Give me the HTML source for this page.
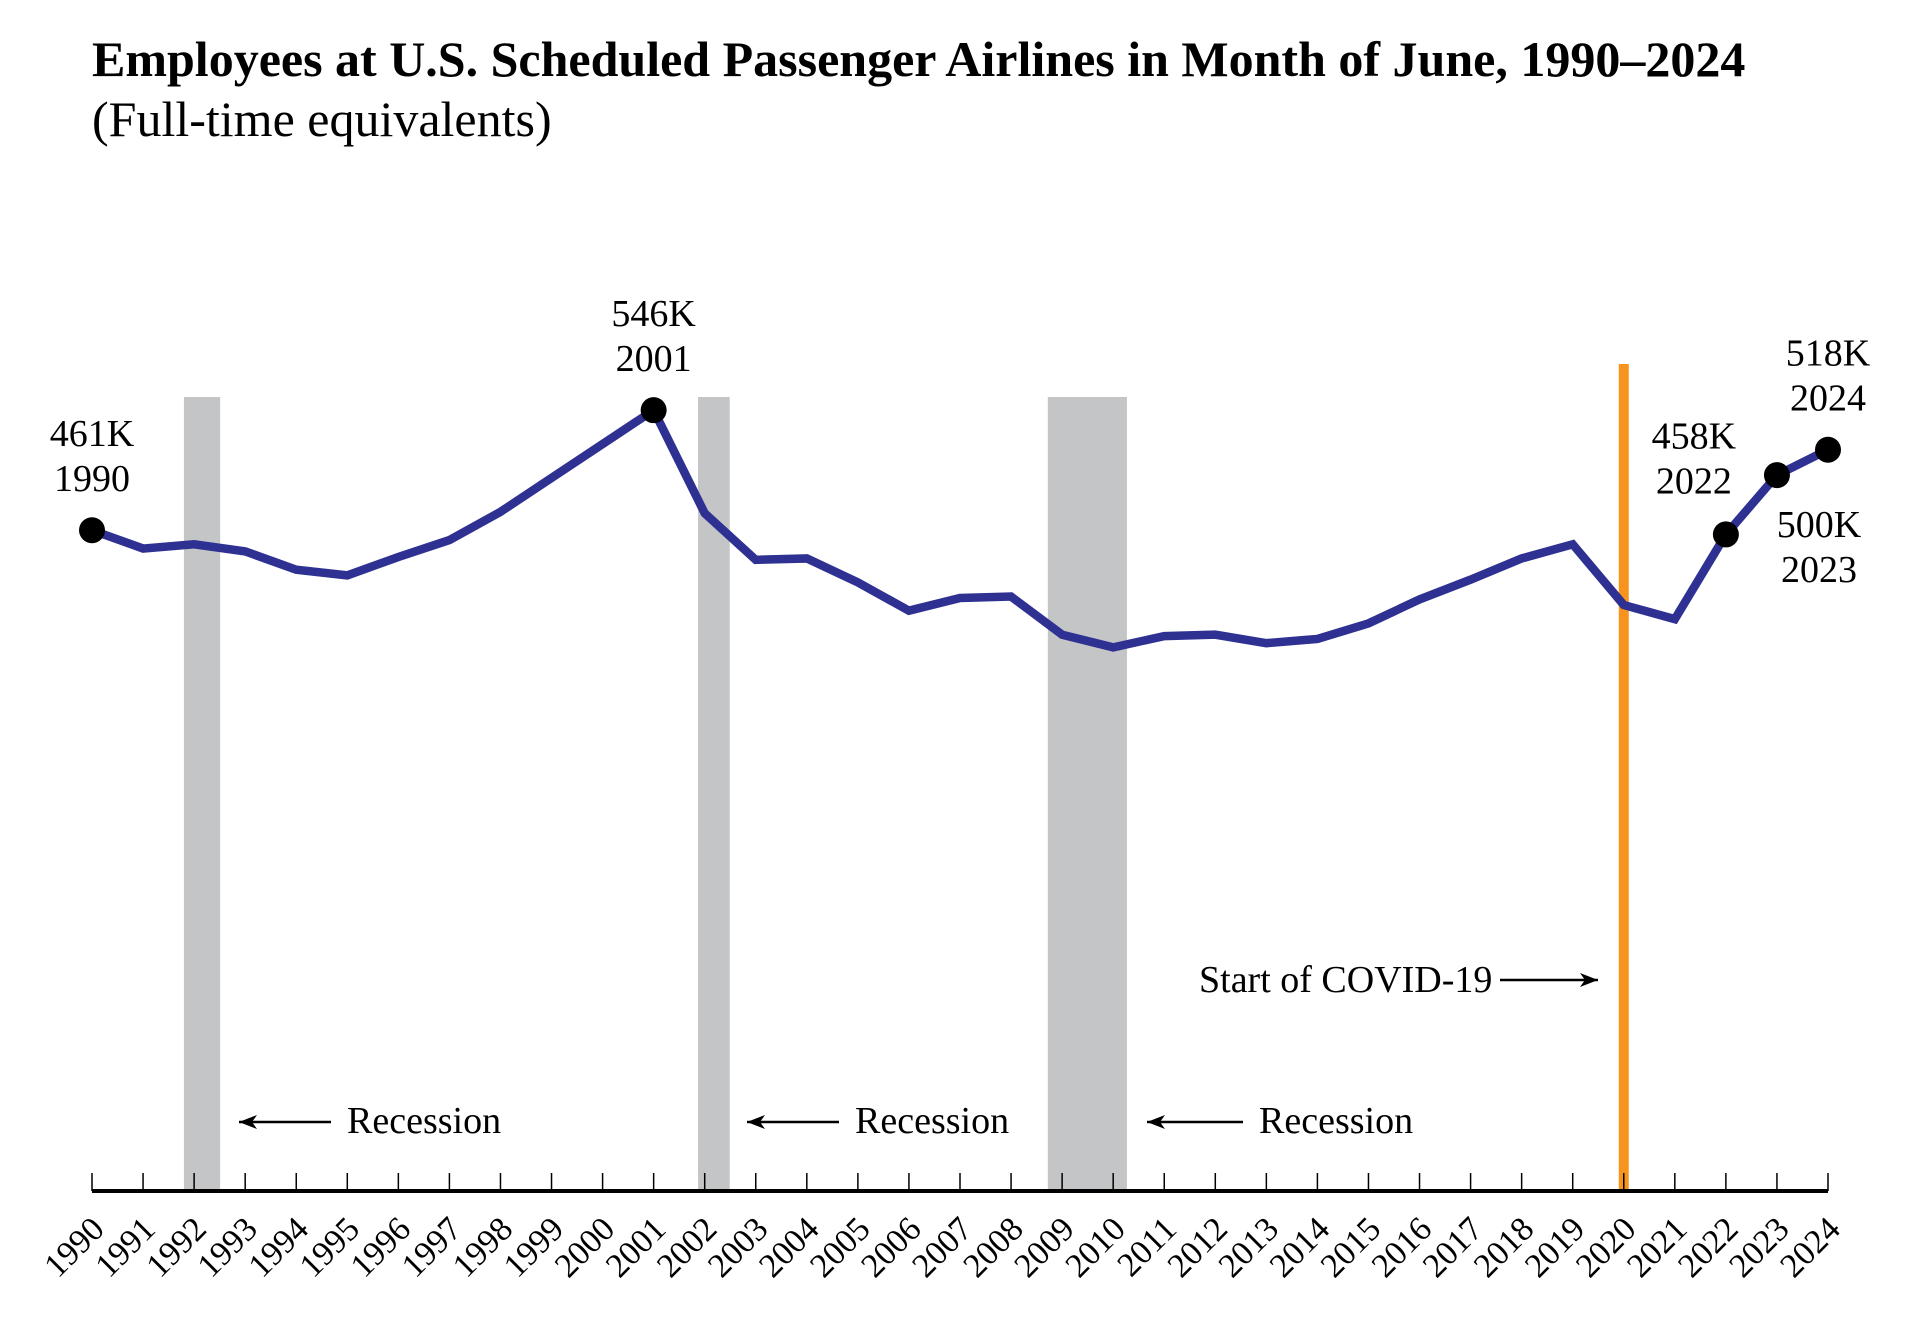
<!DOCTYPE html>
<html><head><meta charset="utf-8"><style>
html,body{margin:0;padding:0;background:#fff;}
svg{display:block;font-family:"Liberation Serif",serif;}
</style></head><body>
<svg id="chart" width="1920" height="1325" viewBox="0 0 1920 1325" xmlns="http://www.w3.org/2000/svg">
<text x="92" y="76" font-size="50" font-weight="bold">Employees at U.S. Scheduled Passenger Airlines in Month of June, 1990–2024</text>
<text x="92" y="136" font-size="50">(Full-time equivalents)</text>
<g id="bands"></g><g id="axis"></g><g id="series"></g><g id="notes"></g>
</svg>
<script>
const years = [1990,1991,1992,1993,1994,1995,1996,1997,1998,1999,2000,2001,2002,2003,2004,2005,2006,2007,2008,2009,2010,2011,2012,2013,2014,2015,2016,2017,2018,2019,2020,2021,2022,2023,2024];
const employees = [461,448,451,446,433,429,442,454,474,498,522,546,473,440,441,424,404,413,414,387,378,386,387,381,384,395,412,426,441,451,408,398,458,500,518];
const recessions = [[1991.8,1992.51],[2001.87,2002.49],[2008.72,2010.27]];
const covidYear = 2020.0;
const labeled = [[1990,"461K","1990","above"],[2001,"546K","2001","above"],[2022,"458K","2022","above"],[2023,"500K","2023","below"],[2024,"518K","2024","above"]];

const NS="http://www.w3.org/2000/svg";
const x0=92,x1=1828,axisY=1191;
function xs(yr){return x0+(yr-1990)*(x1-x0)/34;}
function ys(v){return 530.2-(v-461)*1.412;}
function mk(tag,attrs,parent,text){const e=document.createElementNS(NS,tag);for(const k in attrs)e.setAttribute(k,attrs[k]);if(text!==undefined)e.textContent=text;parent.appendChild(e);return e;}
const bands=document.getElementById('bands'),axis=document.getElementById('axis'),series=document.getElementById('series'),notes=document.getElementById('notes');

recessions.forEach(r=>{
  const e=mk('rect',{x:xs(r[0]),y:397,width:xs(r[1])-xs(r[0]),height:axisY-397,fill:'#c4c5c7'},bands);
  
  
});
const cv=mk('rect',{x:xs(covidYear)-5,y:364,width:10,height:axisY-364,fill:'#f7941d'},bands);



const al=mk('line',{x1:x0,y1:axisY,x2:x1,y2:axisY,stroke:'#000','stroke-width':4},axis);


years.forEach(yr=>{
  const x=xs(yr);
  const t=mk('line',{x1:x,y1:axisY-18,x2:x,y2:axisY,stroke:'#000','stroke-width':1.5},axis);
  
  
  const l=mk('text',{x:x+14,y:axisY+40,'font-size':34,'text-anchor':'end',transform:`rotate(-45 ${x+14} ${axisY+40})`},axis,String(yr));
  
  
});

const pts=years.map((yr,i)=>`${xs(yr)},${ys(employees[i])}`).join(' ');
const pl=mk('polyline',{points:pts,fill:'none',stroke:'#2e3192','stroke-width':8.5,'stroke-linejoin':'miter'},series);



labeled.forEach(d=>{
  const i=years.indexOf(d[0]);const x=xs(d[0]),y=ys(employees[i]);
  const c=mk('circle',{cx:x,cy:y,r:13,fill:'#000'},series);
  
  
  let cx=x,b1;
  if(d[0]===2022){cx=x-32;b1=y-86;}
  else if(d[3]==='below'){cx=x+42;b1=y+62;}
  else{b1=y-84;}
  const t1=mk('text',{x:cx,y:b1,'font-size':38,'text-anchor':'middle'},notes,d[1]);
  
  
  const t2=mk('text',{x:cx,y:b1+45,'font-size':38,'text-anchor':'middle'},notes,d[2]);
  
  
});

function arrow(xa,xb,y,name){
  const g=mk('g',{},notes);
  
  
  mk('line',{x1:xa,y1:y,x2:xb,y2:y,stroke:'#000','stroke-width':2.5},g);
  const dir=xb>xa?1:-1;
  mk('path',{d:`M${xb},${y} L${xb-dir*18},${y-7} L${xb-dir*13},${y} L${xb-dir*18},${y+7} Z`,fill:'#000'},g);
}
[[239,331,347],[747,839,855],[1147,1243,1259]].forEach(a=>{
  arrow(a[1],a[0],1122,'recession-arrow');
  const t=mk('text',{x:a[2],y:1133,'font-size':38},notes,'Recession');
  
  
});
const ct=mk('text',{x:1199,y:992,'font-size':38},notes,'Start of COVID-19');


arrow(1500,1598,980,'covid-arrow');
</script>
</body></html>
